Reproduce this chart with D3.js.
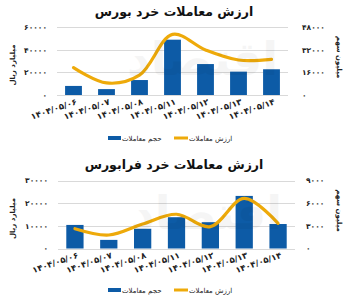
<!DOCTYPE html>
<html>
<head>
<meta charset="utf-8">
<script src="https://cdn.jsdelivr.net/npm/d3@7"></script>
<style>
  html, body { margin: 0; padding: 0; background: #fff; }
  svg { display: block; }
  text { font-family: "DejaVu Sans", sans-serif; }
</style>
</head>
<body>
<svg id="chart" width="348" height="300"></svg>
<script>
// Trading dates (Solar Hijri)
const dates = ["۱۴۰۴/۰۵/۰۶", "۱۴۰۴/۰۵/۰۷", "۱۴۰۴/۰۵/۰۸", "۱۴۰۴/۰۵/۱۱", "۱۴۰۴/۰۵/۱۲", "۱۴۰۴/۰۵/۱۳", "۱۴۰۴/۰۵/۱۴"];

// Bourse: bars on left axis, line on right axis
const bourseBars = [8000, 5200, 13200, 48800, 27300, 20600, 22700];
const bourseLine = [19300, 8500, 14000, 42800, 31800, 24700, 25200];
const bourseLeftTicks = [0, 20000, 40000, 60000];
const bourseRightTicks = [0, 16000, 32000, 48000];

// Farabourse
const faraBars = [10400, 3800, 8700, 13800, 11600, 23200, 10800];
const faraLine = [2620, 1790, 3240, 4530, 2890, 6640, 3330];
const faraLeftTicks = [0, 10000, 20000, 30000];
const faraRightTicks = [0, 3000, 6000, 9000];

const titles = ["ارزش معاملات خرد بورس", "ارزش معاملات خرد فرابورس"];
const leftAxisTitle = "میلیارد ریال";
const rightAxisTitle = "میلیون سهم";
const legendBar = "حجم معاملات";
const legendLine = "ارزش معاملات";

const BLUE = "#0d5ba6";
const GOLD = "#eeaa0a";
const GRID = "#d9d9d9";
const TEXT = "#222";

const faDigits = "۰۱۲۳۴۵۶۷۸۹";
const toFa = n => String(n).replace(/[0-9]/g, d => faDigits[+d]);

const svg = d3.select("#chart");

// faint publisher mark in the background
function watermark(cx, cy) {
  svg.append("text")
    .attr("x", cx).attr("y", cy)
    .attr("text-anchor", "middle")
    .attr("font-size", 46).attr("font-weight", "bold")
    .attr("fill", "#000").attr("opacity", 0.035)
    .text("اقتصاد");
}

function drawPanel(cfg) {
  const g = svg.append("g");
  const x = d3.scaleBand().domain(dates).range([cfg.x0, cfg.x1]);
  const yL = d3.scaleLinear().domain([0, cfg.leftTicks[cfg.leftTicks.length - 1]]).range([cfg.y0, cfg.yTop]);
  const yR = d3.scaleLinear().domain([0, cfg.rightTicks[cfg.rightTicks.length - 1]]).range([cfg.y0, cfg.yTop]);

  watermark((cfg.x0 + cfg.x1) / 2 + 30, cfg.y0 - 20);

  // title
  g.append("text")
    .attr("x", 174).attr("y", cfg.titleY)
    .attr("text-anchor", "middle")
    .attr("font-size", 12.5).attr("font-weight", "bold")
    .attr("fill", "#111")
    .text(cfg.title);

  // gridlines
  g.append("g").selectAll("line").data(cfg.leftTicks).join("line")
    .attr("x1", cfg.x0).attr("x2", cfg.x1)
    .attr("y1", d => Math.round(yL(d)) + 0.5).attr("y2", d => Math.round(yL(d)) + 0.5)
    .attr("stroke", GRID).attr("stroke-width", 1);

  // left axis ticks
  const axL = d3.axisLeft(yL).tickValues(cfg.leftTicks).tickSize(0).tickPadding(0).tickFormat(toFa);
  const gl = g.append("g").attr("transform", `translate(${cfg.x0 - 10},0)`).call(axL);
  gl.select(".domain").remove();
  gl.selectAll("text").attr("font-size", 7.5).attr("font-weight", "bold").attr("fill", TEXT)
    .attr("font-family", "DejaVu Sans");

  // right axis ticks
  const axR = d3.axisRight(yR).tickValues(cfg.rightTicks).tickSize(0).tickPadding(0).tickFormat(toFa);
  const gr = g.append("g").attr("transform", `translate(${cfg.rx},0)`).call(axR);
  gr.select(".domain").remove();
  gr.selectAll("text").attr("font-size", 7.5).attr("font-weight", "bold").attr("fill", TEXT)
    .attr("font-family", "DejaVu Sans");

  // axis titles
  const midY = (cfg.y0 + cfg.yTop) / 2;
  g.append("text")
    .attr("transform", `translate(${cfg.ltX},${midY + 4}) rotate(-90)`)
    .attr("text-anchor", "middle").attr("font-size", 7).attr("font-weight", "bold").attr("fill", TEXT)
    .text(leftAxisTitle);
  g.append("text")
    .attr("transform", `translate(${cfg.rtX},${midY - 4}) rotate(90)`)
    .attr("text-anchor", "middle").attr("font-size", 7).attr("font-weight", "bold").attr("fill", TEXT)
    .text(rightAxisTitle);

  // bars
  const bw = x.bandwidth() * 0.51;
  g.append("g").selectAll("rect").data(cfg.bars).join("rect")
    .attr("x", (d, i) => x(dates[i]) + (x.bandwidth() - bw) / 2)
    .attr("width", bw)
    .attr("y", d => yL(d))
    .attr("height", d => cfg.y0 - yL(d))
    .attr("fill", BLUE);

  // smoothed value line
  const line = d3.line()
    .x((d, i) => x(dates[i]) + x.bandwidth() / 2)
    .y(d => yR(d))
    .curve(d3.curveCatmullRom.alpha(0.5));
  g.append("path").datum(cfg.line)
    .attr("d", line)
    .attr("fill", "none").attr("stroke", GOLD)
    .attr("stroke-width", 3.2).attr("stroke-linecap", "round").attr("stroke-linejoin", "round");

  // category labels
  g.append("g").selectAll("text").data(dates).join("text")
    .attr("transform", d => `translate(${x(d) + x.bandwidth() / 2 + 4},${cfg.y0 + 9}) rotate(-19)`)
    .attr("text-anchor", "end")
    .attr("font-size", 8.5).attr("font-weight", "bold").attr("fill", TEXT)
    .attr("textLength", 48).attr("lengthAdjust", "spacingAndGlyphs")
    .text(d => d);

  // legend
  const ly = cfg.legendY;
  g.append("rect").attr("x", 108).attr("y", ly - 2).attr("width", 13).attr("height", 4).attr("fill", BLUE);
  g.append("text").attr("x", 122).attr("y", ly + 2.5).attr("text-anchor", "start")
    .attr("font-size", 7).attr("fill", TEXT).text(legendBar);
  g.append("line").attr("x1", 174).attr("x2", 188).attr("y1", ly).attr("y2", ly)
    .attr("stroke", GOLD).attr("stroke-width", 3);
  g.append("text").attr("x", 189).attr("y", ly + 2.5).attr("text-anchor", "start")
    .attr("font-size", 7).attr("fill", TEXT).text(legendLine);
}

drawPanel({
  title: titles[0], titleY: 16,
  x0: 57, x1: 288, y0: 95, yTop: 27,
  rx: 302, ltX: 15, rtX: 337,
  leftTicks: bourseLeftTicks, rightTicks: bourseRightTicks,
  bars: bourseBars, line: bourseLine, legendY: 138
});

drawPanel({
  title: titles[1], titleY: 169,
  x0: 58, x1: 295, y0: 248.5, yTop: 180.5,
  rx: 306, ltX: 15, rtX: 337,
  leftTicks: faraLeftTicks, rightTicks: faraRightTicks,
  bars: faraBars, line: faraLine, legendY: 290
});
</script>
</body>
</html>
